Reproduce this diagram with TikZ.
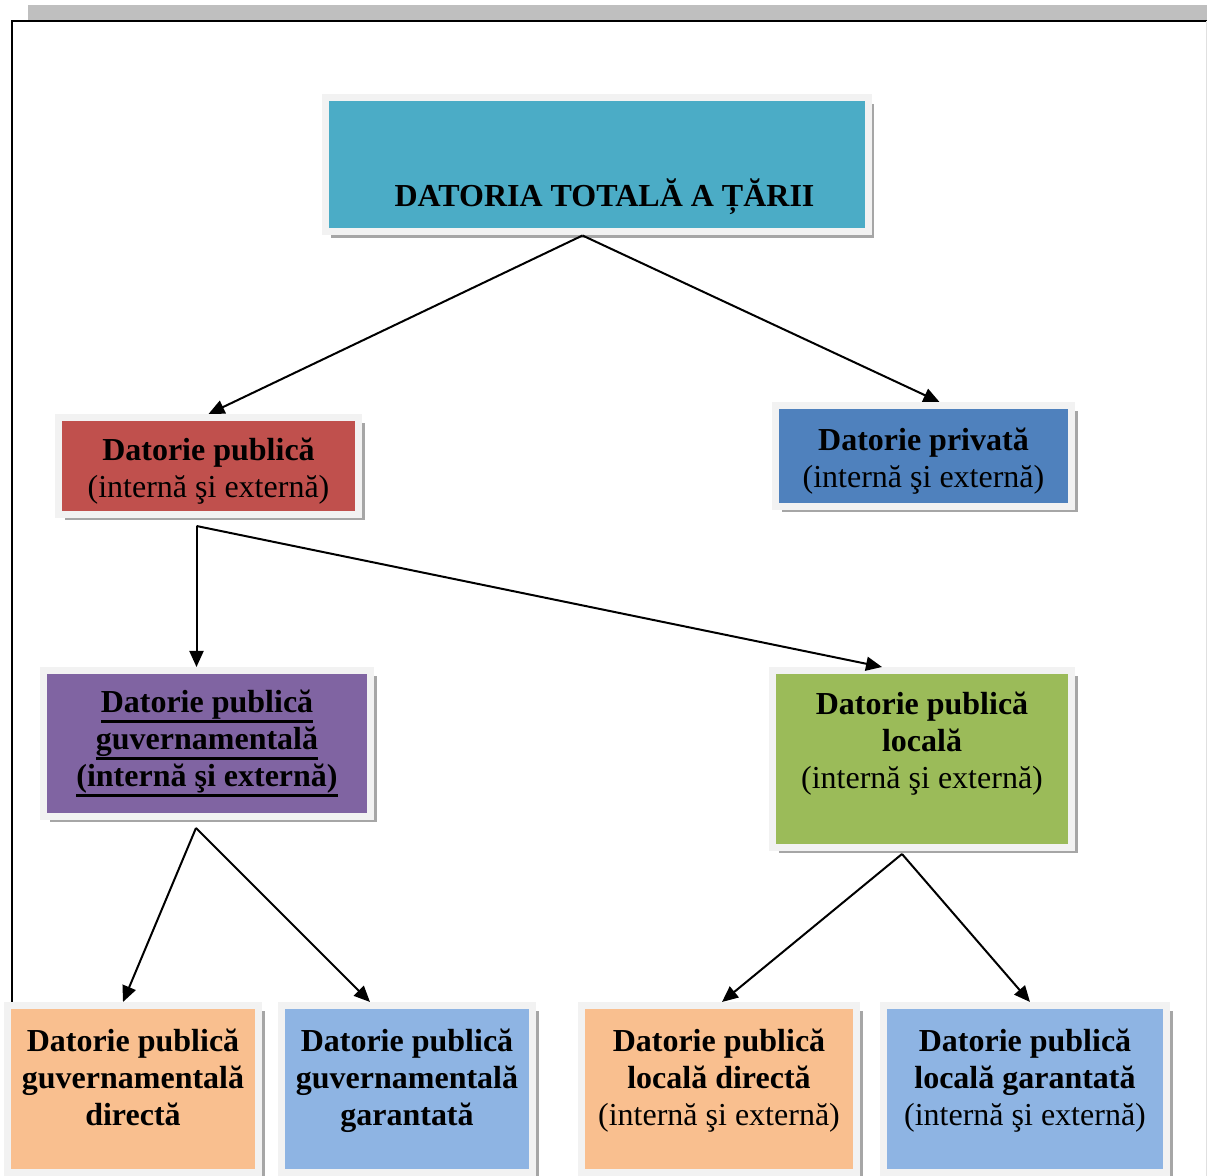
\documentclass[tikz,border=0pt]{standalone}
\usepackage{fontspec}
\setmainfont{Liberation Serif}
\usetikzlibrary{shadows,arrows.meta,calc}

\definecolor{totalBlue}{HTML}{4BACC6}
\definecolor{publicRed}{HTML}{C0504D}
\definecolor{privateBlue}{HTML}{4F81BD}
\definecolor{govPurple}{HTML}{8064A2}
\definecolor{localGreen}{HTML}{9BBB59}
\definecolor{directOrange}{HTML}{F9BF8F}
\definecolor{guarBlue}{HTML}{8EB4E3}
\definecolor{boxRim}{HTML}{F2F2F2}
\definecolor{barGray}{HTML}{BFBFBF}

\newcommand\boxfont{\fontsize{16}{18.5}\selectfont}
% bold text with a heavy underline, as in the purple box
\newcommand\ulBold[1]{\setbox0=\hbox{\textbf{#1}}\rlap{\raisebox{-4.8pt}{\rule{\wd0}{1.3pt}}}\box0}

\begin{document}
\begin{tikzpicture}[x=0.5pt, y=-0.5pt,
    debtBox/.style={rectangle, draw=boxRim, line width=3.5pt, align=center, inner sep=2pt, font=\boxfont,
        drop shadow={shadow xshift=3pt, shadow yshift=-3pt, fill=black, opacity=0.35}},
    debtArrow/.style={-{Triangle[length=8pt,width=7pt]}, line width=1pt}]
                    \useasboundingbox (0,0) rectangle (1207,1176);
                    \fill[barGray] (28,5) rectangle (1207,20);
                    \draw[line width=1pt] (12,1176) -- (12,21) -- (1207,21);
                    \draw[black!12, line width=0.5pt] (1206,21) -- (1206,1176);

                    \node[debtBox, fill=totalBlue, minimum width=271.5pt, minimum height=67pt] (total) at (596.5, 165) {\strut\\[12pt]\hspace*{8pt}\textbf{DATORIA TOTALĂ A ȚĂRII}};

                    \node[debtBox, fill=publicRed, minimum width=150pt, minimum height=48.5pt] (pub) at (208.5, 466) {\rule{0pt}{16pt}\textbf{Datorie publică}\\(internă şi externă)};
                    \node[debtBox, fill=privateBlue, minimum width=148pt, minimum height=50.5pt] (priv) at (923.5, 456) {\rule{0pt}{16pt}\textbf{Datorie privată}\\(internă şi externă)};

                    \node[debtBox, fill=govPurple, minimum width=163.5pt, minimum height=73pt] (gov) at (207, 743.5) {\ulBold{Datorie publică}\\\ulBold{guvernamentală}\\\ulBold{(internă şi externă)}};
                    \node[debtBox, fill=localGreen, minimum width=149.5pt, minimum height=88.5pt] (loc) at (922, 759) {\textbf{Datorie publică}\\\textbf{locală}\\(internă şi externă)\\\mbox{}};

                    \node[debtBox, fill=directOrange, minimum width=125.5pt, minimum height=83.5pt] (gdir) at (133, 1089) {\textbf{Datorie publică}\\\textbf{guvernamentală}\\\textbf{directă}\\[-7pt]\mbox{}};
                    \node[debtBox, fill=guarBlue, minimum width=125.5pt, minimum height=83.5pt] (ggar) at (407, 1089) {\textbf{Datorie publică}\\\textbf{guvernamentală}\\\textbf{garantată}\\[-7pt]\mbox{}};
                    \node[debtBox, fill=directOrange, minimum width=137.5pt, minimum height=83.5pt] (ldir) at (719, 1089) {\textbf{Datorie publică}\\\textbf{locală directă}\\(internă şi externă)\\[-7pt]\mbox{}};
                    \node[debtBox, fill=guarBlue, minimum width=141.5pt, minimum height=83.5pt] (lgar) at (1025, 1089) {\textbf{Datorie publică}\\\textbf{locală garantată}\\(internă şi externă)\\[-7pt]\mbox{}};

                    \draw[debtArrow] ([xshift=-7pt]total.south) -- (pub.north);
                    \draw[debtArrow] ([xshift=-7pt]total.south) -- ([xshift=8pt]priv.north);

                    \coordinate (pubFork) at ([xshift=-6pt, yshift=-4pt]pub.south);
                    \draw[debtArrow] (pubFork) -- (pubFork |- gov.north);
                    \draw[debtArrow] (pubFork) -- ([xshift=-20pt]loc.north);

                    \coordinate (govFork) at ([xshift=-5.5pt, yshift=-4pt]gov.south);
                    \draw[debtArrow] (govFork) -- ([xshift=-5pt]gdir.north);
                    \draw[debtArrow] (govFork) -- ([xshift=-18.5pt]ggar.north);

                    \coordinate (locFork) at ([xshift=-10pt, yshift=-1.5pt]loc.south);
                    \draw[debtArrow] (locFork) -- ([xshift=1.5pt]ldir.north);
                    \draw[debtArrow] (locFork) -- ([xshift=2.5pt]lgar.north);
                \end{tikzpicture}
\end{document}
